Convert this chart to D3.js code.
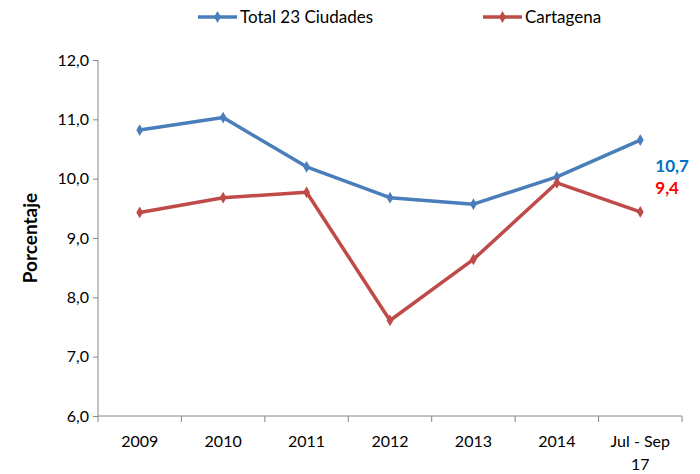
<!DOCTYPE html>
<html>
<head>
<meta charset="utf-8">
<script src="https://cdn.jsdelivr.net/npm/d3@7"></script>
<style>
  body { margin: 0; background: #fff; }
  text { font-family: Lato, "Open Sans", sans-serif; }
</style>
</head>
<body>
<div id="d3"></div>
<script>
var categories = ["2009", "2010", "2011", "2012", "2013", "2014", "Jul - Sep 17"];
var totalCiudades = [10.82, 11.03, 10.20, 9.68, 9.57, 10.03, 10.65];
var cartagena = [9.43, 9.68, 9.77, 7.61, 8.64, 9.93, 9.44];
var yTicks = [6, 7, 8, 9, 10, 11, 12];
var seriesNames = ["Total 23 Ciudades", "Cartagena"];
var endLabels = ["10,7", "9,4"];

var width = 700, height = 474;
var margin = { left: 98, right: 18, top: 60, bottom: 58 };
var innerW = width - margin.left - margin.right;
var innerH = height - margin.top - margin.bottom;

var svg = d3.select("#d3").append("svg").attr("width", width).attr("height", height);
var chartGroup = svg.append("g").attr("transform", "translate(" + margin.left + "," + margin.top + ")");

var x = d3.scaleBand().domain(categories).range([0, innerW]);
var y = d3.scaleLinear().domain([6, 12]).range([innerH, 0]);

var fmt = function(d) { return d3.format(".1f")(d).replace(".", ","); };

// y axis
var yAxis = d3.axisLeft(y).tickValues(yTicks).tickSize(5).tickFormat(fmt);
var yg = chartGroup.append("g").call(yAxis);
yg.select(".domain").attr("stroke", "#868686").attr("d", "M0,0V" + innerH);
yg.selectAll(".tick line").attr("stroke", "#868686");
yg.selectAll(".tick text").attr("font-size", 16).attr("fill", "#000").attr("x", -9);

// x axis: ticks at band edges
var xg = chartGroup.append("g").attr("transform", "translate(0," + innerH + ")");
xg.append("line").attr("x1", 0).attr("x2", innerW).attr("stroke", "#868686");
xg.selectAll(".edge").data(categories.concat([null])).enter().append("line")
  .attr("x1", function(d, i) { return i * x.step(); })
  .attr("x2", function(d, i) { return i * x.step(); })
  .attr("y1", 0).attr("y2", 6).attr("stroke", "#868686");
xg.selectAll(".lbl").data(categories).enter().append("text")
  .attr("text-anchor", "middle").attr("font-size", 16).attr("fill", "#000")
  .attr("transform", function(d) { return "translate(" + (x(d) + x.bandwidth() / 2) + ",31)"; })
  .each(function(d) {
    var t = d3.select(this);
    var parts = d === "Jul - Sep 17" ? ["Jul - Sep", "17"] : [d];
    parts.forEach(function(p, i) {
      t.append("tspan").attr("x", 0).attr("dy", i === 0 ? 0 : 23).text(p);
    });
  });

// y title
svg.append("text").attr("transform", "translate(37," + (margin.top + innerH / 2) + ") rotate(-90)")
  .attr("text-anchor", "middle").attr("font-size", 19).attr("font-weight", "bold").text("Porcentaje");

var line = d3.line()
  .x(function(d, i) { return x(categories[i]) + x.bandwidth() / 2; })
  .y(function(d) { return y(d); });

var series = [
  { name: seriesNames[0], values: totalCiudades, color: "#4A7EBB" },
  { name: seriesNames[1], values: cartagena, color: "#BE4B48" }
];

var diamond = d3.symbol().type(d3.symbolDiamond).size(40);

series.forEach(function(s) {
  chartGroup.append("path").attr("d", line(s.values)).attr("fill", "none")
    .attr("stroke", s.color).attr("stroke-width", 3.5).attr("stroke-linejoin", "round");
  chartGroup.selectAll(null).data(s.values).enter().append("path")
    .attr("d", diamond).attr("fill", s.color)
    .attr("transform", function(d, i) {
      return "translate(" + (x(categories[i]) + x.bandwidth() / 2) + "," + y(d) + ")";
    });
});

// end value labels
var lastX = x(categories[categories.length - 1]) + x.bandwidth() / 2;
var labelColors = ["#0070C0", "#FF0000"];
chartGroup.append("text").attr("x", lastX + 15).attr("y", 112).attr("font-size", 17)
  .attr("font-weight", "bold").attr("fill", labelColors[0]).text(endLabels[0]);
chartGroup.append("text").attr("x", lastX + 15).attr("y", 134).attr("font-size", 17)
  .attr("font-weight", "bold").attr("fill", labelColors[1]).text(endLabels[1]);

// legend
var legendX = [198, 483];
series.forEach(function(s, i) {
  var g = svg.append("g").attr("transform", "translate(" + legendX[i] + ",17)");
  g.append("line").attr("x1", 0).attr("x2", 39).attr("stroke", s.color).attr("stroke-width", 3.5);
  g.append("path").attr("d", diamond).attr("fill", s.color).attr("transform", "translate(19.5,0)");
  g.append("text").attr("x", 42).attr("y", 0).attr("dy", "0.35em").attr("font-size", 17).text(s.name);
});
</script>
</body>
</html>
